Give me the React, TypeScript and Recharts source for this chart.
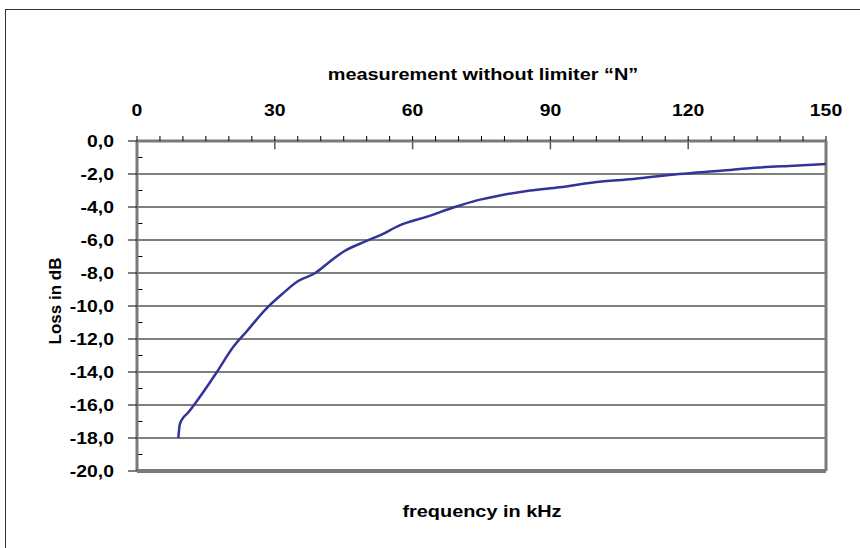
import React from "react";
import {
  CartesianGrid,
  Line,
  LineChart,
  ReferenceLine,
  XAxis,
  YAxis,
} from "recharts";

// frequency (kHz) and loss (dB)
const FREQ = [9, 9.3, 10, 11, 13.7, 17.4, 20.9, 24, 28, 31.5, 35, 38.8, 42, 45, 49.6, 53, 57.3, 63, 69.2, 74, 79, 85.6, 92, 99.7, 108, 118, 127, 135.6, 143, 150];
const LOSS = [-18.0, -17.2, -16.8, -16.5, -15.5, -14.0, -12.5, -11.5, -10.2, -9.3, -8.5, -8.0, -7.3, -6.7, -6.1, -5.7, -5.1, -4.6, -4.0, -3.6, -3.3, -3.0, -2.8, -2.5, -2.3, -2.0, -1.8, -1.6, -1.5, -1.4];

const X_TICKS = [0, 5, 10, 15, 20, 25, 30, 35, 40, 45, 50, 55, 60, 65, 70, 75, 80, 85, 90, 95, 100, 105, 110, 115, 120, 125, 130, 135, 140, 145, 150];
const X_MAJOR = [30, 60, 90, 120];
const Y_TICKS = [0, -2, -4, -6, -8, -10, -12, -14, -16, -18, -20];
const Y_MINOR = [-1, -3, -5, -7, -9, -11, -13, -15, -17, -19];

const data = FREQ.map((f, i) => ({ f, loss: LOSS[i] }));

const FONT = "'Liberation Sans', Arial, sans-serif";
const AXIS_GRAY = "#7a7a7a";
const STRETCH = 1.14; // the original text is drawn a bit wide

const TopTick = (props: any) => {
  const { x, y, payload } = props;
  if (payload.value % 30 !== 0) return null;
  return (
    <text
      transform={`translate(${x},${y}) scale(${STRETCH},1)`}
      textAnchor="middle"
      fontSize={17}
      fontWeight="bold"
      fontFamily={FONT}
      fill="#000"
    >
      {payload.value}
    </text>
  );
};

const LeftTick = (props: any) => {
  const { x, y, payload } = props;
  return (
    <text
      transform={`translate(${x},${y}) scale(${STRETCH},1)`}
      dy="0.36em"
      textAnchor="end"
      fontSize={17}
      fontWeight="bold"
      fontFamily={FONT}
      fill="#000"
    >
      {payload.value.toFixed(1).replace(".", ",")}
    </text>
  );
};

const titleStyle: React.CSSProperties = {
  position: "absolute",
  width: 400,
  textAlign: "center",
  lineHeight: "22px",
  fontFamily: FONT,
  fontWeight: "bold",
  fontSize: 17,
  transform: "scaleX(1.17)",
};

export default function App() {
  return (
    <div style={{ position: "absolute", left: 0, top: 0, width: 860, height: 548, background: "#fff", overflow: "hidden" }}>
      <div style={{ position: "absolute", left: 5, top: 9, width: 900, height: 600, border: "1.5px solid #333", boxSizing: "border-box" }} />
      <div style={{ ...titleStyle, left: 283, top: 64 }}>measurement without limiter “N”</div>
      <div style={{ ...titleStyle, left: 282, top: 501 }}>frequency in kHz</div>
      <svg width={80} height={548} style={{ position: "absolute", left: 20, top: 0 }}>
        <text
          transform="translate(35,301) rotate(-90)"
          dy="0.36em"
          textAnchor="middle"
          fontSize={17}
          fontWeight="bold"
          fontFamily={FONT}
          fill="#000"
        >
          Loss in dB
        </text>
      </svg>
      <LineChart
        width={860}
        height={548}
        data={data}
        margin={{ top: 101, right: 34, bottom: 77, left: 57 }}
        style={{ position: "absolute", left: 0, top: 0 }}
      >
        <CartesianGrid horizontal vertical={false} stroke="#000" strokeWidth={1.2} />
        <XAxis
          type="number"
          dataKey="f"
          orientation="top"
          domain={[0, 150]}
          ticks={X_TICKS}
          interval={0}
          height={40}
          tickSize={5}
          tickMargin={20}
          tick={<TopTick />}
          axisLine={{ stroke: AXIS_GRAY, strokeWidth: 3 }}
          tickLine={{ stroke: "#000", strokeWidth: 1 }}
        />
        <YAxis
          type="number"
          domain={[-20, 0]}
          ticks={Y_TICKS}
          interval={0}
          width={80}
          tickSize={9}
          tickMargin={14}
          tick={<LeftTick />}
          axisLine={{ stroke: AXIS_GRAY, strokeWidth: 3 }}
          tickLine={{ stroke: "#000", strokeWidth: 1 }}
        />
        {X_MAJOR.map((v) => (
          <ReferenceLine key={`xm${v}`} segment={[{ x: v, y: 0 }, { x: v, y: -0.5 }]} stroke="#555" strokeWidth={1.5} ifOverflow="visible" />
        ))}
        {Y_MINOR.map((v) => (
          <ReferenceLine key={`ym${v}`} segment={[{ x: 0, y: v }, { x: 1.2, y: v }]} stroke="#000" strokeWidth={1} ifOverflow="visible" />
        ))}
        <ReferenceLine x={150} stroke={AXIS_GRAY} strokeWidth={3} />
        <ReferenceLine y={-20} stroke={AXIS_GRAY} strokeWidth={4} />
        <Line
          type="monotone"
          dataKey="loss"
          stroke="#333399"
          strokeWidth={2.5}
          dot={false}
          isAnimationActive={false}
        />
      </LineChart>
    </div>
  );
}
